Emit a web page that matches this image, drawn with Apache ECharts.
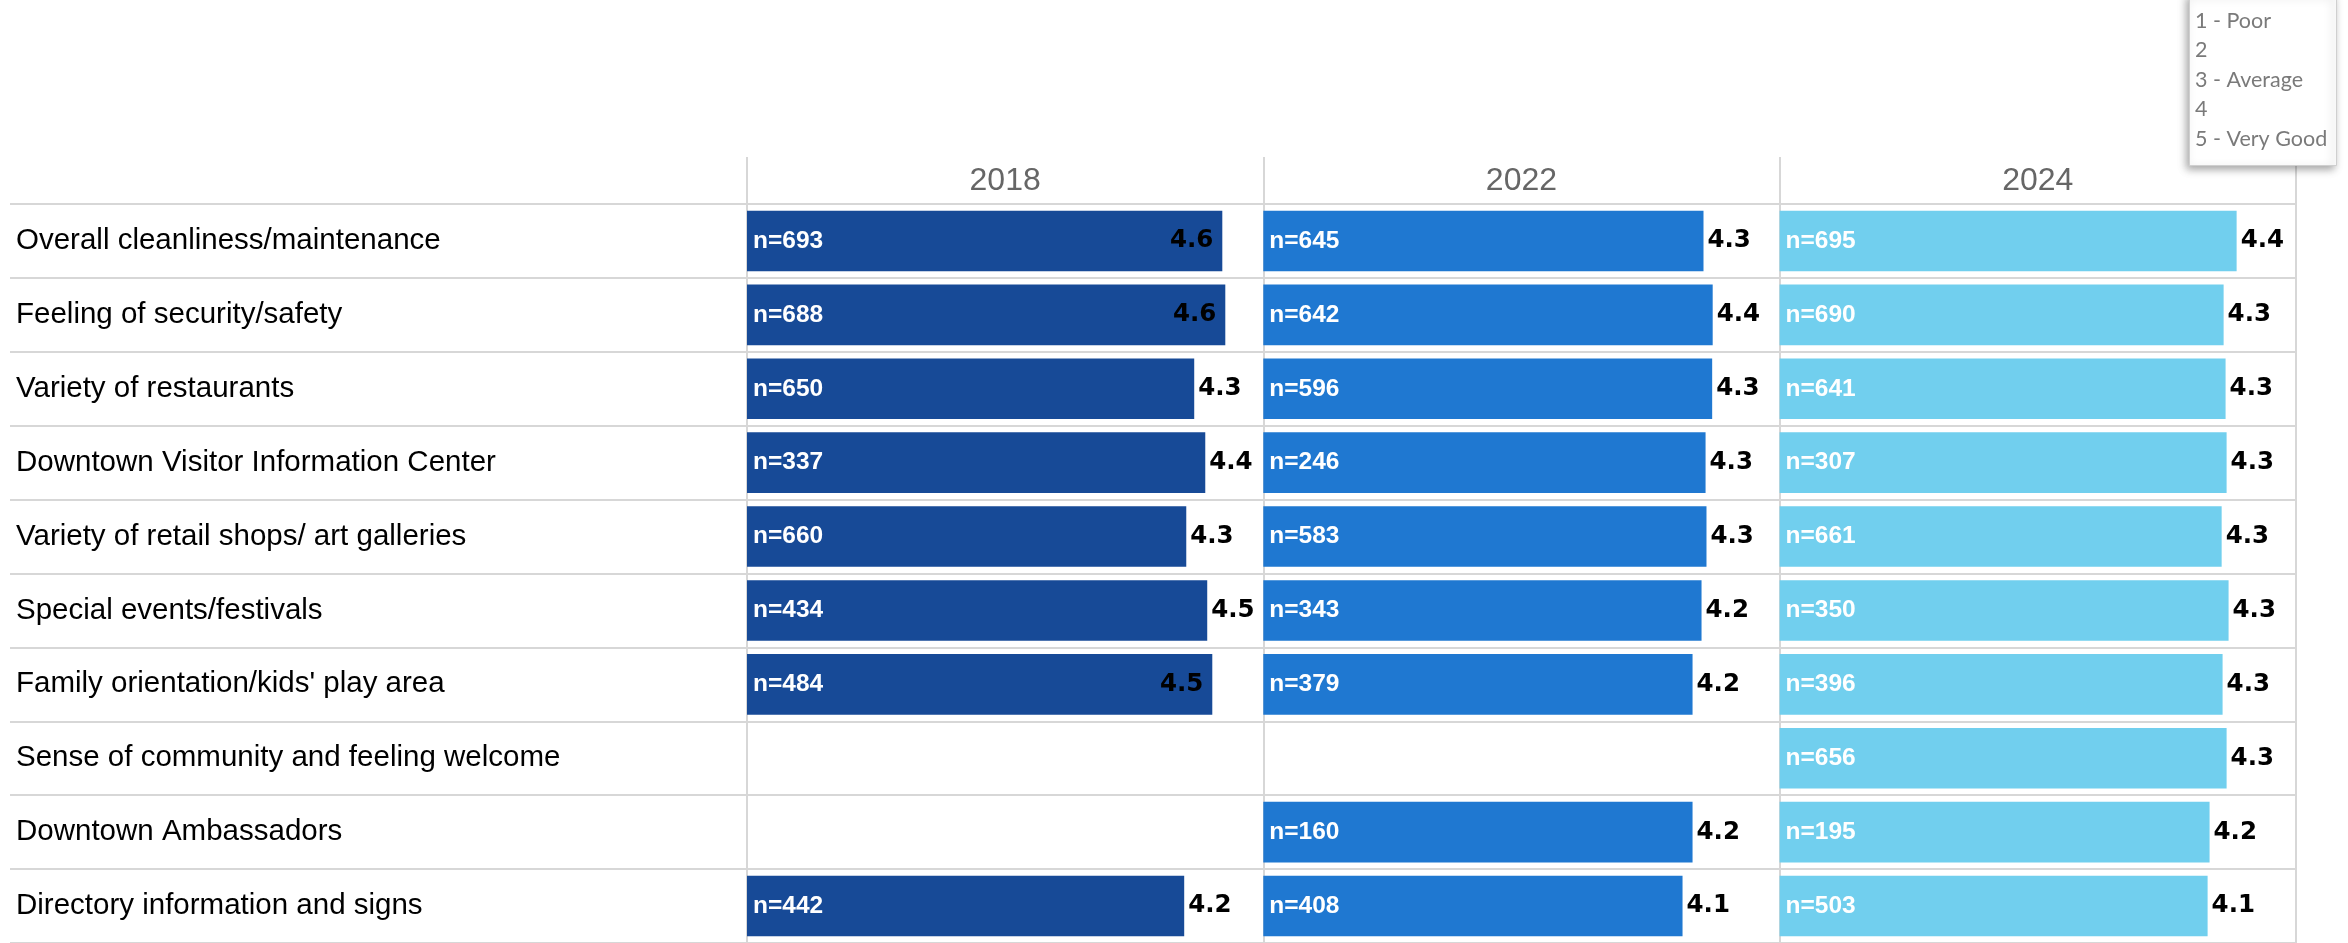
<!DOCTYPE html>
<html>
<head>
<meta charset="utf-8">
<title>Downtown ratings by year</title>
<script src="https://cdn.jsdelivr.net/npm/echarts@6/dist/echarts.min.js"></script>
<style>
  html, body { margin: 0; padding: 0; background: #ffffff; }
  #chart { width: 2348px; height: 943px; }
</style>
</head>
<body>
<div id="chart"></div>
<script>
// Rated attributes, top to bottom
const categories = [
  'Overall cleanliness/maintenance',
  'Feeling of security/safety',
  'Variety of restaurants',
  'Downtown Visitor Information Center',
  'Variety of retail shops/ art galleries',
  'Special events/festivals',
  "Family orientation/kids' play area",
  'Sense of community and feeling welcome',
  'Downtown Ambassadors',
  'Directory information and signs'
];

// Survey years (one panel each)
const years = ['2018', '2022', '2024'];

// Mean rating on the 1-5 scale (null = not asked that year)
const score2018 = [4.603, 4.632, 4.331, 4.438, 4.254, 4.457, 4.506, null, null, 4.234];
const score2022 = [4.263, 4.352, 4.347, 4.283, 4.292, 4.244, 4.157, null, 4.157, 4.060];
const score2024 = [4.426, 4.300, 4.319, 4.329, 4.281, 4.348, 4.290, 4.329, 4.164, 4.145];

// Number of respondents behind each mean
const n2018 = [693, 688, 650, 337, 660, 434, 484, null, null, 442];
const n2022 = [645, 642, 596, 246, 583, 343, 379, null, 160, 408];
const n2024 = [695, 690, 641, 307, 661, 350, 396, 656, 195, 503];

// Rating scale key
const ratingScale = ['1 - Poor', '2', '3 - Average', '4', '5 - Very Good'];

const scores = [score2018, score2022, score2024];
const counts = [n2018, n2022, n2024];
const yearColors = ['#174A97', '#1F78D1', '#71CFEE'];

// Layout
const FONT = '"Liberation Sans", Arial, Helvetica, sans-serif';
const VALUE_FONT = '"DejaVu Sans", Verdana, sans-serif';
const labelColLeft = 10;
const panelLeft = 747;
const panelWidth = 516.3;
const headerTop = 157;
const rowsTop = 204;
const rowHeight = 74.1;
const rowsHeight = rowHeight * categories.length;
const scaleMax = 5;
// Means this high get their value label tucked inside the bar end
const insideLabelFrom = 4.48;
const gridColor = '#d7d7d7';

const chart = echarts.init(document.getElementById('chart'), null, { renderer: 'canvas' });

const grids = [
  { left: labelColLeft, top: rowsTop, width: panelLeft - labelColLeft, height: rowsHeight }
];
years.forEach((y, i) => {
  grids.push({ left: panelLeft + i * panelWidth, top: rowsTop, width: panelWidth, height: rowsHeight });
});
// frame spanning header + rows for the year headers and column rules
grids.push({ left: panelLeft, top: headerTop, width: panelWidth * years.length, height: rowsHeight + (rowsTop - headerTop) });

const xAxes = [
  { gridIndex: 0, type: 'value', min: 0, max: 1, show: false }
];
years.forEach((y, i) => {
  xAxes.push({ gridIndex: i + 1, type: 'value', min: 0, max: scaleMax, show: false });
});
xAxes.push({
  gridIndex: years.length + 1,
  type: 'category',
  data: years,
  position: 'top',
  boundaryGap: true,
  axisLine: { show: false },
  axisTick: { show: false },
  axisLabel: { inside: true, margin: 8, fontSize: 32, color: '#666666', fontFamily: FONT },
  splitLine: { show: true, lineStyle: { color: gridColor, width: 2 } }
});

const rowSplit = { show: true, lineStyle: { color: gridColor, width: 2 } };
const yAxes = [
  {
    gridIndex: 0,
    type: 'category',
    inverse: true,
    data: categories,
    axisLine: { show: false },
    axisTick: { show: false },
    axisLabel: { inside: true, margin: 6, fontSize: 29.5, color: '#000000', fontFamily: FONT },
    splitLine: rowSplit
  }
];
years.forEach((y, i) => {
  yAxes.push({
    gridIndex: i + 1,
    type: 'category',
    inverse: true,
    data: categories,
    axisLine: { show: false },
    axisTick: { show: false },
    axisLabel: { show: false },
    splitLine: rowSplit
  });
});
yAxes.push({ gridIndex: years.length + 1, type: 'value', min: 0, max: 1, show: false });

const series = [];
years.forEach((y, i) => {
  const vals = scores[i];
  const ns = counts[i];
  // visible bars carrying the respondent count
  series.push({
    name: y,
    type: 'bar',
    xAxisIndex: i + 1,
    yAxisIndex: i + 1,
    data: vals,
    barWidth: '82%',
    barGap: '-100%',
    itemStyle: { color: yearColors[i] },
    label: {
      show: true,
      position: 'insideLeft',
      distance: 6,
      formatter: p => 'n=' + ns[p.dataIndex],
      color: '#ffffff',
      fontWeight: 'bold',
      fontSize: 24.5,
      fontFamily: FONT
    },
    z: 2
  });
  // overlay carrying the mean label at the bar end
  series.push({
    name: y + ' mean',
    type: 'bar',
    xAxisIndex: i + 1,
    yAxisIndex: i + 1,
    data: vals.map(v => v == null ? null : {
      value: v,
      label: v >= insideLabelFrom
        ? { position: 'insideRight', distance: 9 }
        : { position: 'right', distance: 4 }
    }),
    barWidth: '82%',
    barGap: '-100%',
    silent: true,
    itemStyle: { color: 'rgba(0,0,0,0)' },
    label: {
      show: true,
      formatter: p => Number(p.value).toFixed(1),
      color: '#000000',
      fontWeight: 'bold',
      fontSize: 24.5,
      fontFamily: VALUE_FONT
    },
    z: 3
  });
});

chart.setOption({
  animation: false,
  backgroundColor: '#ffffff',
  textStyle: { fontFamily: FONT },
  title: {
    text: ratingScale.join('\n'),
    left: 2189,
    top: -6,
    padding: [12, 10, 12, 6],
    backgroundColor: '#ffffff',
    borderColor: '#cfcfcf',
    borderWidth: 1,
    shadowBlur: 8,
    shadowColor: 'rgba(0,0,0,0.35)',
    shadowOffsetX: -3,
    shadowOffsetY: 3,
    textStyle: {
      fontFamily: 'Lato, "Open Sans", sans-serif',
      fontSize: 21.5,
      fontWeight: 'normal',
      color: '#7a7a7a',
      lineHeight: 29.5
    },
    z: 10
  },
  grid: grids,
  xAxis: xAxes,
  yAxis: yAxes,
  series: series
});
</script>
</body>
</html>
